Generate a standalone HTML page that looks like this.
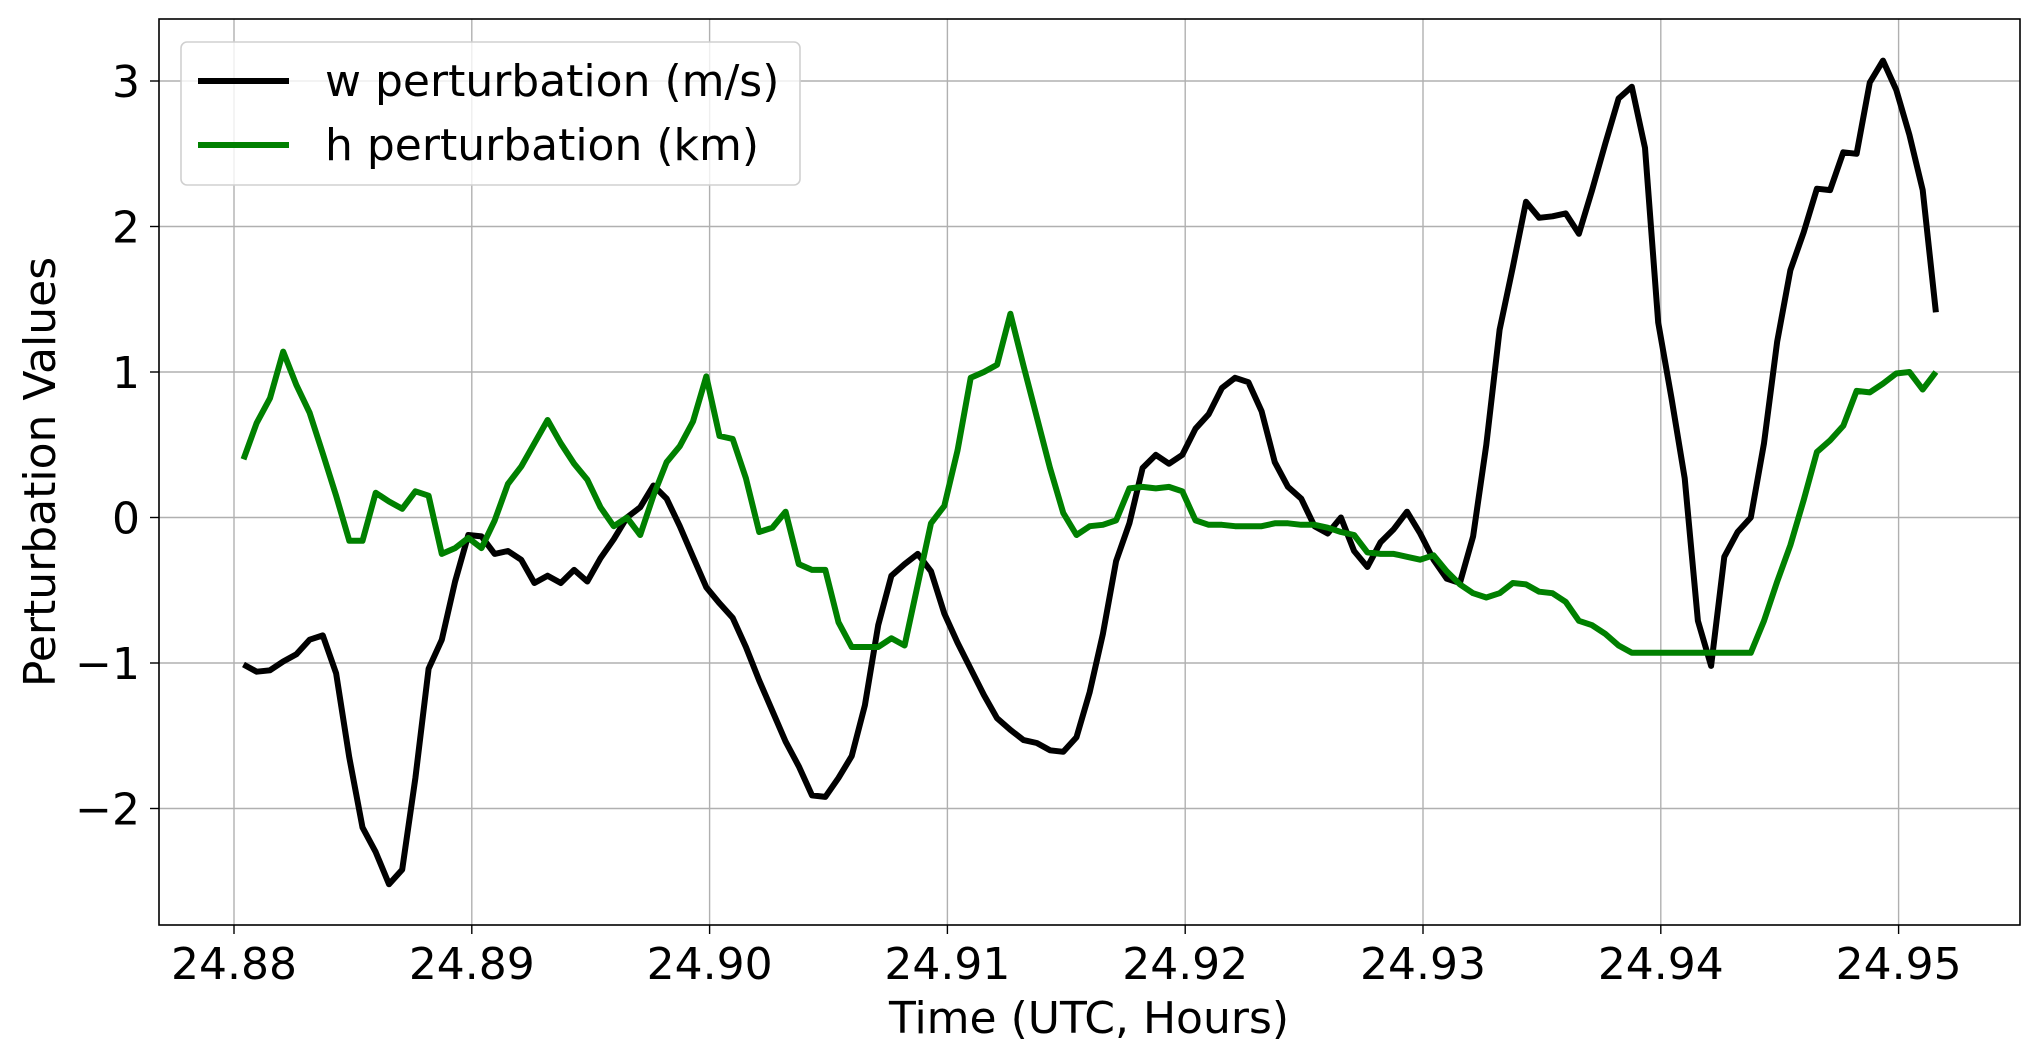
<!DOCTYPE html>
<html><head><meta charset="utf-8"><style>
html,body{margin:0;padding:0;background:#fff;}
svg{display:block;font-family:"DejaVu Sans","Liberation Sans",sans-serif;}
</style></head><body>
<svg id="chart" width="2039" height="1062" viewBox="0 0 2039 1062" xmlns="http://www.w3.org/2000/svg">
<rect width="2039" height="1062" fill="#fff"/>
<g id="grid"></g>
<g id="series"></g>
<rect x="159" y="19" width="1861" height="906" fill="none" stroke="#000" stroke-width="1.6"/>
<g id="ticks"></g>
<text x="1089" y="1033" font-size="44" text-anchor="middle">Time (UTC, Hours)</text>
<text transform="translate(55,472) rotate(-90)" font-size="44" text-anchor="middle">Perturbation Values</text>
<g>
<rect x="181" y="42" width="619" height="143" rx="6" fill="#fff" fill-opacity="0.8" stroke="#d0d0d0" stroke-width="1.6"/>
<line x1="198" y1="81" x2="289" y2="81" stroke="#000" stroke-width="6"/>
<text x="325" y="96" font-size="44">w perturbation (m/s)</text>
<line x1="198" y1="145" x2="289" y2="145" stroke="#008000" stroke-width="6"/>
<text x="325" y="160" font-size="44">h perturbation (km)</text>
</g>
</svg>
<script>
const t0 = 24.8804;
const dt = 0.000556;
const wValues = [-1.01,-1.06,-1.05,-0.99,-0.94,-0.84,-0.81,-1.07,-1.65,-2.13,-2.30,-2.52,-2.42,-1.79,-1.04,-0.84,-0.44,-0.12,-0.13,-0.25,-0.23,-0.29,-0.45,-0.40,-0.45,-0.36,-0.44,-0.28,-0.15,0.0,0.07,0.22,0.13,-0.06,-0.27,-0.48,-0.59,-0.69,-0.89,-1.12,-1.33,-1.54,-1.71,-1.91,-1.92,-1.79,-1.64,-1.29,-0.74,-0.40,-0.32,-0.25,-0.37,-0.66,-0.86,-1.04,-1.22,-1.38,-1.46,-1.53,-1.55,-1.60,-1.61,-1.51,-1.20,-0.80,-0.30,-0.04,0.34,0.43,0.37,0.43,0.61,0.71,0.89,0.96,0.93,0.73,0.38,0.21,0.13,-0.06,-0.11,0.0,-0.23,-0.34,-0.17,-0.08,0.04,-0.11,-0.29,-0.42,-0.45,-0.13,0.50,1.29,1.72,2.17,2.06,2.07,2.09,1.95,2.25,2.57,2.88,2.96,2.54,1.34,0.82,0.27,-0.71,-1.02,-0.27,-0.10,0.0,0.51,1.21,1.70,1.96,2.26,2.25,2.51,2.50,2.99,3.14,2.94,2.63,2.25,1.41];
const hValues = [0.40,0.65,0.82,1.14,0.91,0.72,0.44,0.15,-0.16,-0.16,0.17,0.11,0.06,0.18,0.15,-0.25,-0.21,-0.14,-0.21,-0.02,0.23,0.35,0.51,0.67,0.51,0.37,0.26,0.07,-0.06,0.0,-0.12,0.15,0.38,0.49,0.66,0.97,0.56,0.54,0.27,-0.10,-0.07,0.04,-0.32,-0.36,-0.36,-0.72,-0.89,-0.89,-0.89,-0.83,-0.88,-0.46,-0.04,0.08,0.46,0.96,1.0,1.05,1.40,1.04,0.69,0.34,0.03,-0.12,-0.06,-0.05,-0.02,0.20,0.21,0.20,0.21,0.18,-0.02,-0.05,-0.05,-0.06,-0.06,-0.06,-0.04,-0.04,-0.05,-0.05,-0.07,-0.10,-0.12,-0.24,-0.25,-0.25,-0.27,-0.29,-0.26,-0.37,-0.46,-0.52,-0.55,-0.52,-0.45,-0.46,-0.51,-0.52,-0.58,-0.71,-0.74,-0.80,-0.88,-0.93,-0.93,-0.93,-0.93,-0.93,-0.93,-0.93,-0.93,-0.93,-0.93,-0.71,-0.44,-0.19,0.12,0.45,0.53,0.63,0.87,0.86,0.92,0.99,1.0,0.88,1.0];
const xTicks = [24.88,24.89,24.90,24.91,24.92,24.93,24.94,24.95];
const xTickLabels = ["24.88","24.89","24.90","24.91","24.92","24.93","24.94","24.95"];
const yTicks = [-2,-1,0,1,2,3];
const yTickLabels = ["\u22122","\u22121","0","1","2","3"];

const X = t => 234 + (t - 24.88) * 23780;
const Y = v => 517.5 - v * 145.5;
const NS = "http://www.w3.org/2000/svg";
const grid = document.getElementById('grid');
const ticks = document.getElementById('ticks');
const series = document.getElementById('series');
function mk(tag, attrs, parent){const e=document.createElementNS(NS,tag);for(const k in attrs)e.setAttribute(k,attrs[k]);parent.appendChild(e);return e;}

xTicks.forEach((t,i)=>{
  const x=X(t);
  const g=mk('line',{x1:x,y1:19,x2:x,y2:925,stroke:'#b0b0b0','stroke-width':1.4},grid);
  
  
  const tk=mk('line',{x1:x,y1:925,x2:x,y2:934,stroke:'#000','stroke-width':1.4},ticks);
  
  
  const lb=mk('text',{x:x,y:979,'font-size':44,'text-anchor':'middle'},ticks);
  lb.textContent=xTickLabels[i];
  
  
});
yTicks.forEach((v,i)=>{
  const y=Y(v);
  const g=mk('line',{x1:159,y1:y,x2:2020,y2:y,stroke:'#b0b0b0','stroke-width':1.4},grid);
  
  
  const tk=mk('line',{x1:150,y1:y,x2:159,y2:y,stroke:'#000','stroke-width':1.4},ticks);
  
  
  const lb=mk('text',{x:140,y:y+16,'font-size':44,'text-anchor':'end'},ticks);
  lb.textContent=yTickLabels[i];
  
  
});
function line(vals,color,name){
  const pts=vals.map((v,i)=>X(t0+i*dt).toFixed(1)+','+Y(v).toFixed(1)).join(' ');
  const p=mk('polyline',{points:pts,fill:'none',stroke:color,'stroke-width':6,'stroke-linejoin':'round'},series);
  
  
}
line(wValues,'#000','w-perturbation-line');
line(hValues,'#008000','h-perturbation-line');
</script>
</body></html>
